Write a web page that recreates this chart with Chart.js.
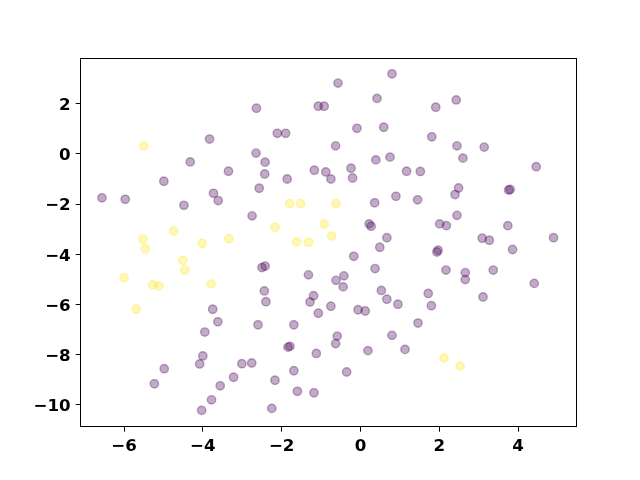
<!DOCTYPE html>
<html>
<head>
<meta charset="utf-8">
<script src="https://cdn.jsdelivr.net/npm/chart.js@4.4.1/dist/chart.umd.min.js"></script>
<style>
  html, body { margin: 0; background: #fff; }
</style>
</head>
<body>
<canvas id="grafico" width="640" height="480"></canvas>
<script>
// puntos (clase 0 = morado, clase 1 = amarillo)
let moradoX = [-3.83, -4.32, -3.35, -4.99, -3.73, -3.61, -6.56, -5.97, -4.48, -2.75,
  -3.75, -3.62, -3.95, -4.00, -4.08, -4.98, -5.23, -3.01, -2.76, -3.22, -3.56, -3.78, -4.03,
  0.80, -0.57, 0.42, -2.64, -1.07, -0.92, -2.11, -1.90, -0.09, 0.59, -0.63, -2.65, -2.42, -2.43,
  -1.86, -1.17, -0.88, -0.75, -0.24, -0.20, 0.39, 0.75, 1.17, -2.57, 0.90, 0.36, 1.45, 0.22, 0.27, 0.67, 0.49,
  -0.17, 0.37, -2.50, -2.42, -1.32, -0.62, -0.42, -0.44, 0.53, 0.67, 0.95, -2.44, -2.40, -1.19, -1.28,
  -1.07, -0.75, -0.06, 0.12, -2.60, -1.69, -0.59, -0.63, -1.84, -1.79, -1.12, 0.19, 0.80, 1.13, -1.69,
  -0.35, -2.17, -1.60, -1.18, -2.25, 1.46,
  2.43, 1.91, 1.81, 2.45, 3.14, 2.60, 1.52, 4.46, 2.49, 2.40, 3.76, 3.80, 2.45, 2.01, 2.18, 3.74, 3.09, 3.27, 4.90,
  3.86, 1.94, 1.97, 2.17, 2.66, 2.66, 3.37, 4.41, 1.72, 1.80, 3.11]
let moradoY = [0.59, -0.32, -0.69, -1.09, -1.57, -1.86, -1.75, -1.81, -2.05, -2.47,
  -6.19, -6.69, -7.10, -8.05, -8.37, -8.56, -9.16, -8.36, -8.33, -8.90, -9.24, -9.80, -10.22,
  3.19, 2.82, 2.21, 1.82, 1.90, 1.90, 0.82, 0.82, 1.02, 1.06, 0.32, 0.03, -0.33, -0.80,
  -1.00, -0.65, -0.72, -1.00, -0.57, -0.96, -0.24, -0.13, -0.69, -1.37, -1.69, -1.95, -1.83, -2.79, -2.88, -3.34, -3.72,
  -4.08, -4.57, -4.53, -4.47, -4.82, -5.04, -4.86, -5.30, -5.44, -5.79, -5.99, -5.46, -5.89, -5.65, -5.90,
  -6.35, -6.07, -6.21, -6.26, -6.81, -6.81, -7.26, -7.56, -7.70, -7.67, -7.95, -7.84, -7.23, -7.79, -8.64,
  -8.69, -9.02, -9.46, -9.52, -10.14, -6.74,
  2.15, 1.86, 0.68, 0.32, 0.27, -0.17, -0.70, -0.51, -1.36, -1.62, -1.44, -1.42, -2.45, -2.79, -2.86, -2.86, -3.36, -3.44, -3.34,
  -3.81, -3.91, -3.84, -4.63, -4.73, -5.01, -4.63, -5.16, -5.56, -6.05, -5.70]

let amarilloX = [-5.50, -5.52, -4.74, -4.02, -3.34, -5.46, -4.51, -4.46, -6.00, -5.27, -5.12, -3.79,
  -5.69, -1.80, -1.52, -0.62, -2.17, -0.92, -0.73, -1.62, -1.32, 2.12, 2.53]
let amarilloY = [0.31, -3.40, -3.07, -3.56, -3.38, -3.78, -4.25, -4.63, -4.93, -5.22, -5.26, -5.18,
  -6.19, -1.98, -1.98, -1.98, -2.92, -2.80, -3.27, -3.50, -3.52, -8.13, -8.45]

let ticksX = [-6, -4, -2, 0, 2, 4]
let ticksY = [-10, -8, -6, -4, -2, 0, 2]

function puntos(xs, ys){
  return xs.map((x, i) => ({x: x, y: ys[i]}))
}

function etiqueta(v){
  return v < 0 ? '\u2212' + Math.abs(v) : String(v)
}

// marco de los cuatro lados, como matplotlib
const marco = {
  id: 'marco',
  afterDatasetsDraw(chart){
    const a = chart.chartArea
    const ctx = chart.ctx
    const izq = Math.floor(a.left) + 0.5
    const arr = Math.floor(a.top) + 0.5
    ctx.save()
    ctx.strokeStyle = '#000'
    ctx.lineWidth = 1
    ctx.strokeRect(izq, arr, Math.floor(a.right) + 0.5 - izq, Math.floor(a.bottom) + 0.5 - arr)
    ctx.restore()
  }
}

let fuente = {family: "'DejaVu Sans'", size: 16.67, weight: 'bold'}

let grafico = document.getElementById('grafico').getContext('2d')

new Chart(grafico, {
  type: 'scatter',
  data: {
    datasets: [{
      data: puntos(moradoX, moradoY),
      backgroundColor: 'rgba(68, 1, 84, 0.33)',
      borderColor: 'rgba(68, 1, 84, 0.33)',
      borderWidth: 1.4,
      pointRadius: 4.2
    }, {
      data: puntos(amarilloX, amarilloY),
      backgroundColor: 'rgba(253, 231, 37, 0.33)',
      borderColor: 'rgba(253, 231, 37, 0.33)',
      borderWidth: 1.4,
      pointRadius: 4.2
    }]
  },
  options: {
    responsive: false,
    animation: false,
    layout: { padding: {left: 0, top: 58, right: 64, bottom: 0} },
    plugins: { legend: {display: false}, tooltip: {enabled: false} },
    scales: {
      x: {
        type: 'linear',
        min: -7.10,
        max: 5.47,
        border: {display: false},
        grid: {drawOnChartArea: false, drawTicks: true, tickLength: 5, color: '#000', lineWidth: 1},
        ticks: {color: '#000', font: fuente, padding: 5, maxRotation: 0, callback: etiqueta},
        afterBuildTicks: s => { s.ticks = ticksX.map(v => ({value: v})) },
        afterFit: s => { s.height = 53.3 }
      },
      y: {
        type: 'linear',
        min: -10.87,
        max: 3.82,
        border: {display: false},
        grid: {drawOnChartArea: false, drawTicks: true, tickLength: 5, color: '#000', lineWidth: 1},
        ticks: {color: '#000', font: fuente, padding: 5, labelOffset: 2, callback: etiqueta},
        afterBuildTicks: s => { s.ticks = ticksY.map(v => ({value: v})) },
        afterFit: s => { s.width = 80.7 }
      }
    }
  },
  plugins: [marco]
})
</script>
</body>
</html>
